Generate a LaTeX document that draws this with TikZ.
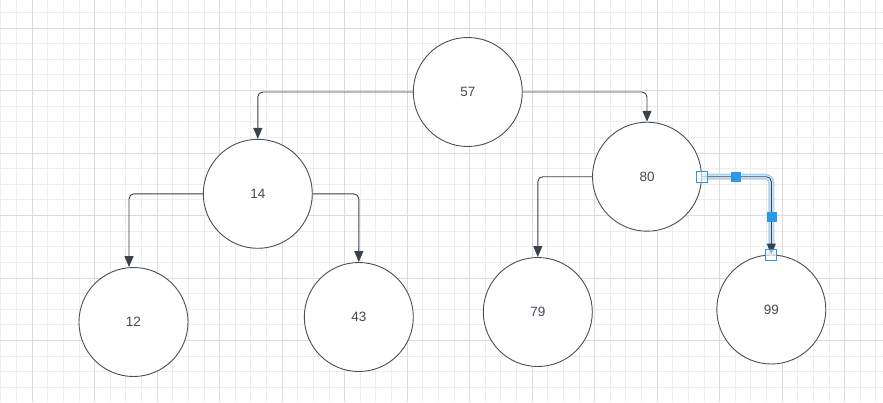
\documentclass[tikz,border=0pt]{standalone}
\usepackage{fontspec}
\setmainfont{Liberation Sans}
\usepackage{tikz}
\usetikzlibrary{arrows.meta}

\definecolor{gridminor}{HTML}{EDEDED}
\definecolor{gridmajor}{HTML}{DCDCDC}
\definecolor{edgecol}{HTML}{3B424B}
\definecolor{ringcol}{HTML}{4A4F57}
\definecolor{labelcol}{HTML}{454A52}
\definecolor{selblue}{HTML}{2A9AE6}
\definecolor{selband}{HTML}{A9D3F6}

\begin{document}
\begin{tikzpicture}[
    x=1pt, y=-1pt,
    keynode/.style={circle, draw=ringcol, line width=0.9pt, fill=white,
        minimum size=109pt, inner sep=0pt, font=\fontsize{13.5}{14}\selectfont,
        text=labelcol},
    edge/.style={-{Triangle[length=11pt,width=9pt]}, draw=edgecol,
        line width=0.9pt, rounded corners=5pt},
    endhandle/.style={draw=selblue, fill=white, fill opacity=0.6,
        line width=1pt, minimum size=11pt, inner sep=0pt},
    midhandle/.style={draw=selblue, fill=selblue, minimum size=9pt, inner sep=0pt}
]
\useasboundingbox (0,0) rectangle (883,402);
\fill[white] (0,0) rectangle (883,402);
% --- Grid ---
\foreach \i in {0,...,57} {
    \draw[gridminor, line width=0.8pt] (0.8+15.625*\i, 0) -- (0.8+15.625*\i, 402);
}
\foreach \i in {1,...,26} {
    \draw[gridminor, line width=0.8pt] (0, -3.25+15.625*\i) -- (883, -3.25+15.625*\i);
}
\foreach \k in {-1,...,13} {
    \draw[gridmajor, line width=0.9pt] (32.05+62.5*\k, 0) -- (32.05+62.5*\k, 402);
}
\foreach \k in {0,...,6} {
    \draw[gridmajor, line width=0.9pt] (0, 28+62.5*\k) -- (883, 28+62.5*\k);
}
% --- Keys ---
\foreach \name/\x/\y in {57/467.8/92, 14/257.8/193.8, 80/647/176.7,
                         12/133.5/322, 43/358.8/317, 79/537.8/312, 99/771.3/309.5} {
    \node[keynode] (n\name) at (\x, \y) {\name};
}
% --- Selection band under 80 -> 99 ---
\draw[selband, line width=6pt, rounded corners=6pt] (n80.east) -| (n99.north);
\draw[white!70!selband, line width=2.5pt, rounded corners=6pt] (n80.east) -| (n99.north);
% --- Edges ---
\draw[edge] (n57.west) -| (n14.north);
\draw[edge] (n57.east) -| (n80.north);
\draw[edge] (n14.west) -| ([xshift=-4.5pt]n12.north);
\draw[edge] (n14.east) -| (n43.north);
\draw[edge] (n80.west) -| (n79.north);
\draw[edge] (n80.east) -| (n99.north);
% --- Handles of the selected edge ---
\node[endhandle] (hstart) at (n80.east) {};
\node[midhandle] (hmidh) at (736, 176.7) {};
\node[midhandle] (hmidv) at (771.3, 216.5) {};
\node[endhandle] (hend) at ([yshift=-0.5pt]n99.north) {};
\end{tikzpicture}
\end{document}
